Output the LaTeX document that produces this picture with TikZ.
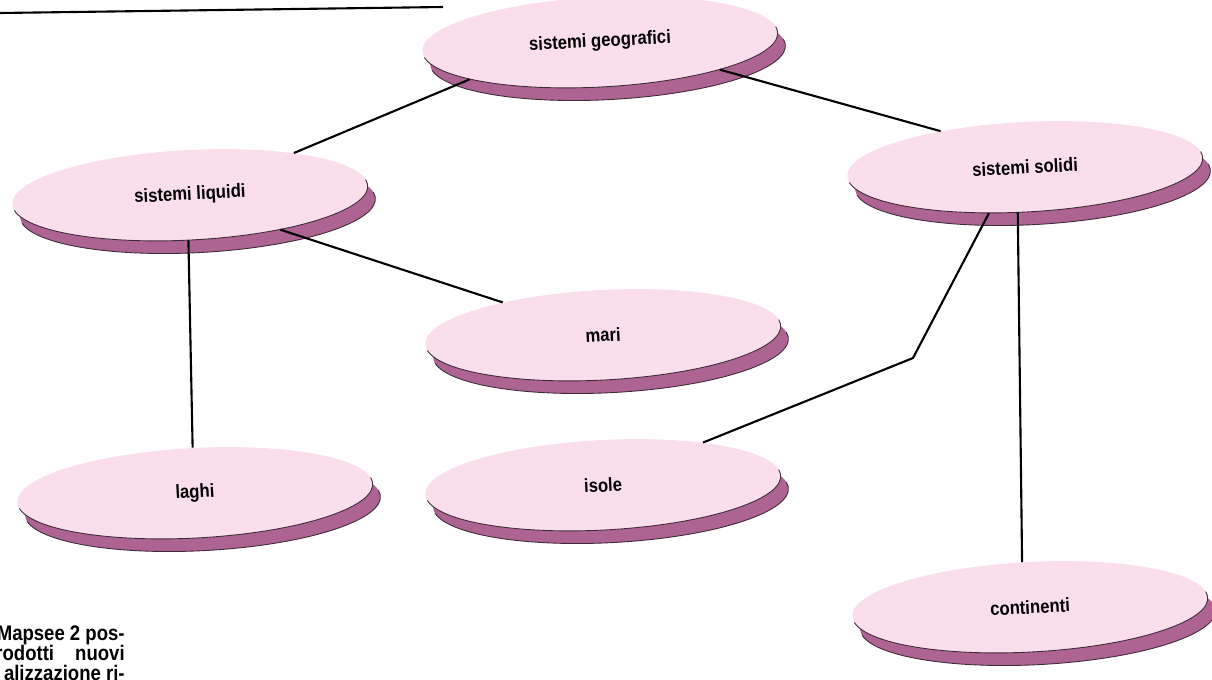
\documentclass[tikz,border=0pt]{standalone}
\usepackage{fontspec}
\setmainfont{Liberation Sans}[FakeStretch=0.88]
\usepackage{tikz}
\usetikzlibrary{shapes.geometric,calc}
\definecolor{topink}{RGB}{250,222,235}
\definecolor{rimpink}{RGB}{174,100,146}
\definecolor{rimedge}{RGB}{62,42,56}

\begin{document}
\begin{tikzpicture}[x=0.02cm,y=-0.02cm,font=\bfseries\fontsize{10.8}{13}\selectfont,
  lbl/.style={ellipse,minimum width=7.12cm,minimum height=1.8cm,inner sep=0pt,rotate=3},
  link/.style={line width=1.2pt}]
  \useasboundingbox (0,0) rectangle (1212,679);
  % rule at the top of the page
  \coordinate (r0) at (0,13);
  \coordinate (r1) at (443,7);
  \draw[link] (r0) -- (r1);
  % disks: rim, top, label
  \foreach \n/\x/\y/\t in {geo/600/42/sistemi geografici,liq/190/195/sistemi liquidi,
    sol/1025/167/sistemi solidi,mari/603/335/mari,laghi/195/493/laghi,
    isole/603/485/isole,cont/1030/607/continenti}{
    \begin{scope}[shift={(\x,\y)},rotate=3]
      \fill[rimpink] (0.14cm,-0.26cm) ellipse [x radius=3.56cm,y radius=0.9cm];
      \draw[rimedge,line width=0.5pt] (8:3.56cm and 0.9cm) ++(0.14cm,-0.26cm)
        arc [start angle=8,end angle=-172,x radius=3.56cm,y radius=0.9cm];
      \fill[topink] (0,0) ellipse [x radius=3.56cm,y radius=0.9cm];
      \draw[rimedge,line width=0.5pt] (188:3.56cm and 0.9cm)
        arc [start angle=188,end angle=368,x radius=3.56cm,y radius=0.9cm];
    \end{scope}
    \node[lbl] (\n) at (\x,\y) {\t};
  }
  % links
  \draw[link] (geo.193) -- (liq.19);
  \draw[link] (geo.344) -- (sol.154);
  \draw[link] (liq.336) -- (mari.159);
  \draw[link] (liq.265) -- (laghi.90);
  \coordinate (bend) at (913,358);
  \draw[link] (sol.229) -- (bend) -- (isole.20);
  \draw[link] (sol.258) -- (cont.97);
  % caption cut by the page edge
  \node[anchor=north east,inner sep=0pt,align=right,font=\bfseries\fontsize{12}{11.4}\selectfont] (cap) at (125,625)
    {Mapsee 2 pos-\\rodotti\quad nuovi\\alizzazione ri-};
\end{tikzpicture}
\end{document}
